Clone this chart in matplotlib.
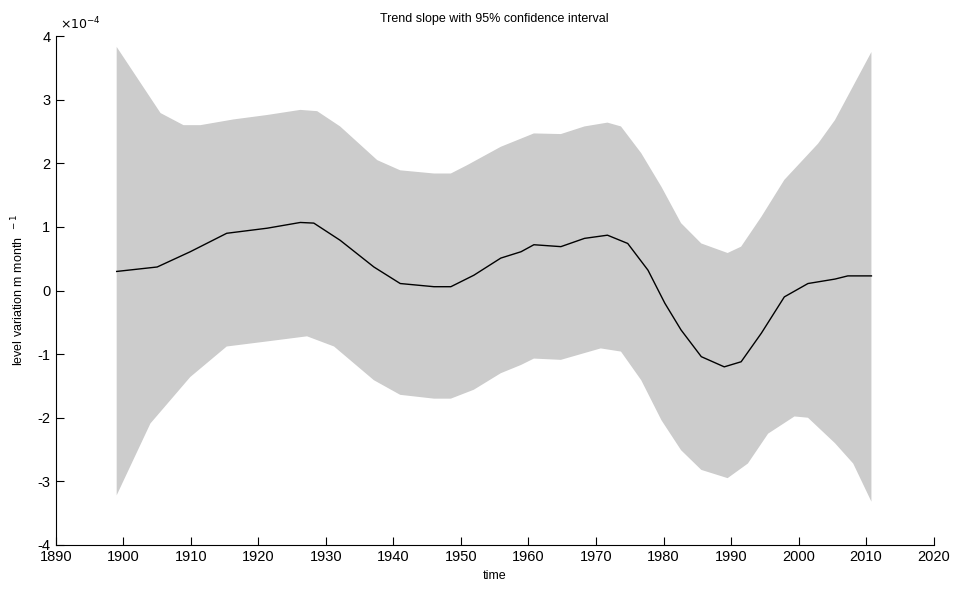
import matplotlib.pyplot as plt
import numpy as np

plt.rcParams['axes.unicode_minus'] = False
plt.rcParams['font.family'] = ['Liberation Sans', 'DejaVu Sans']

# trend slope and 95% bounds, in units of 1e-4 m/month
yr_mid = [1899, 1905, 1909.9, 1915.3, 1921.3, 1926.2, 1928.2, 1932.1, 1937.1, 1941, 1946,
          1948.5, 1951.9, 1955.9, 1958.9, 1960.8, 1964.8, 1968.3, 1971.7, 1974.7, 1977.7,
          1980.2, 1982.6, 1985.6, 1989, 1991.5, 1994.5, 1997.9, 2001.4, 2005.4, 2007.3, 2010.8]
slope = [0.30, 0.37, 0.61, 0.90, 0.98, 1.07, 1.06, 0.79, 0.37, 0.11, 0.06,
         0.06, 0.24, 0.51, 0.61, 0.72, 0.69, 0.82, 0.87, 0.74, 0.32,
         -0.20, -0.62, -1.04, -1.20, -1.12, -0.67, -0.10, 0.11, 0.18, 0.23, 0.23]

yr_up = [1899, 1905.5, 1908.9, 1911.4, 1916.3, 1921.3, 1926.2, 1928.7, 1932.1, 1937.6, 1941,
         1946, 1948.5, 1950.9, 1955.9, 1960.8, 1964.8, 1968.3, 1971.7, 1973.7, 1976.7, 1979.7,
         1982.6, 1985.6, 1989.5, 1991.5, 1994.5, 1997.9, 2002.9, 2005.4, 2010.8]
upper = [3.83, 2.79, 2.60, 2.60, 2.69, 2.76, 2.84, 2.82, 2.58, 2.05, 1.89,
         1.84, 1.84, 1.97, 2.26, 2.47, 2.46, 2.58, 2.64, 2.58, 2.16, 1.63,
         1.06, 0.74, 0.59, 0.69, 1.16, 1.74, 2.31, 2.68, 3.75]

yr_lo = [1899, 1904, 1909.9, 1915.3, 1921.3, 1927.2, 1931.2, 1937.1, 1941, 1946, 1948.5,
         1951.9, 1955.9, 1958.9, 1960.8, 1964.8, 1970.7, 1973.7, 1976.7, 1979.7, 1982.6,
         1985.6, 1989.5, 1992.5, 1995.5, 1999.4, 2001.4, 2005.4, 2008.1, 2010.8]
lower = [-3.22, -2.09, -1.36, -0.88, -0.80, -0.72, -0.88, -1.41, -1.64, -1.70, -1.70,
         -1.56, -1.30, -1.17, -1.07, -1.09, -0.91, -0.96, -1.41, -2.04, -2.51,
         -2.82, -2.95, -2.72, -2.25, -1.98, -2.00, -2.40, -2.72, -3.32]

fig = plt.figure(figsize=(9.56, 5.92), dpi=100)
ax = fig.add_axes([0.0585, 0.0795, 0.918, 0.8595])

# confidence band as one polygon: upper edge then lower edge back
band_x = np.concatenate([yr_up, yr_lo[::-1]])
band_y = np.concatenate([upper, lower[::-1]])
ax.fill(band_x, band_y, color='#cccccc', linewidth=0)
ax.plot(yr_mid, slope, color='black', linewidth=1)

ax.set_xlim(1890, 2020)
ax.set_ylim(-4, 4)
ax.set_xticks(np.arange(1890, 2021, 10))
ax.set_yticks(np.arange(-4, 5, 1))
ax.tick_params(direction='in', labelsize=10.5, length=6, pad=4)
ax.spines['top'].set_visible(False)
ax.spines['right'].set_visible(False)

ax.set_title('Trend slope with 95% confidence interval', fontsize=9, pad=10)
ax.set_xlabel('time', fontsize=9, labelpad=4)
ax.set_ylabel('level variation m month$^{\\ \\ -1}$', fontsize=9, labelpad=8)
ax.text(0.005, 1.008, '$\\times 10^{-4}$', transform=ax.transAxes, fontsize=9,
        ha='left', va='bottom')

plt.savefig('out.png', dpi=100)
